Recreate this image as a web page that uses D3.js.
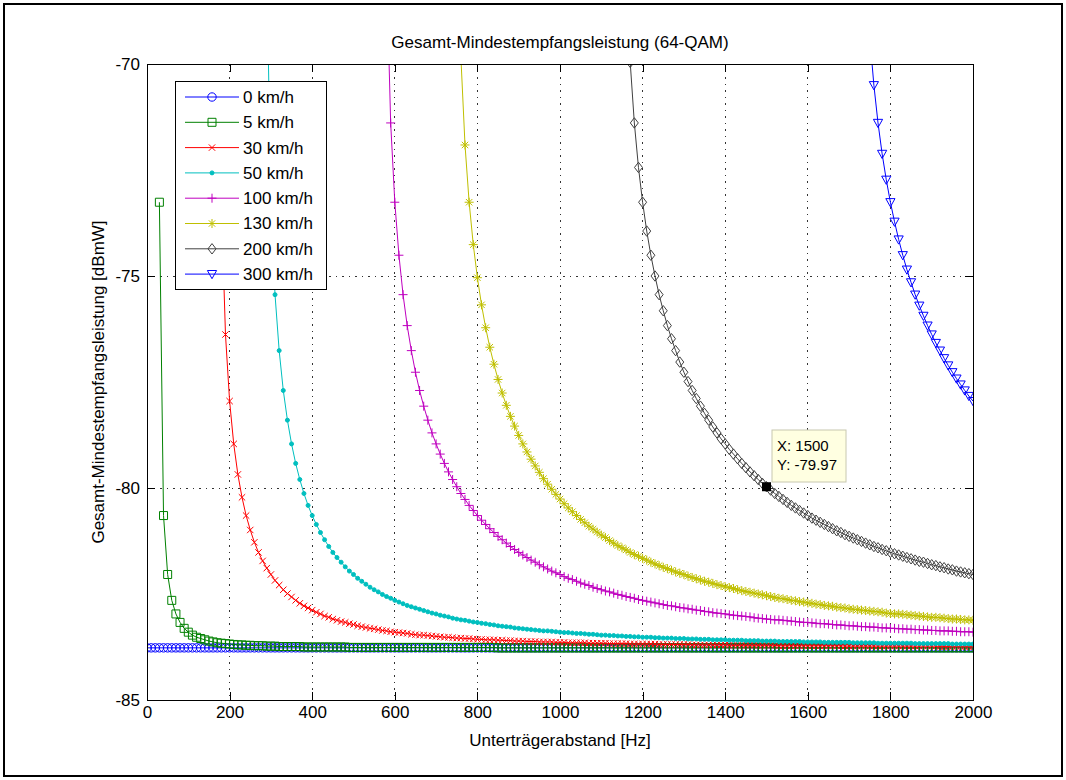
<!DOCTYPE html>
<html>
<head>
<meta charset="utf-8">
<script src="https://cdn.jsdelivr.net/npm/d3@7"></script>
<style>
body{margin:0;background:#fff;}
text{font-family:"Liberation Sans",Arial,Helvetica,sans-serif;}
</style>
</head>
<body>
<div class="plot"></div>
<script>
// curves, one value every 10 Hz from speedStart
const speedLabels = ["0 km/h","5 km/h","30 km/h","50 km/h","100 km/h","130 km/h","200 km/h","300 km/h"];
const speedColors = ["#0000ff","#008000","#ff0000","#00bfbf","#bf00bf","#bfbf00","#404040","#0000ff"];
const speedMarkers = ["o","s","x",".","+","*","d","v"];
const speedStart = [0,30,180,290,580,760,1170,1750];
const sampleStep = 10;

const p0kmh = [
-83.77,-83.77,-83.77,-83.77,-83.77,-83.77,-83.77,-83.77,-83.77,-83.77,
-83.77,-83.77,-83.77,-83.77,-83.77,-83.77,-83.77,-83.77,-83.77,-83.77,
-83.77,-83.77,-83.77,-83.77,-83.77,-83.77,-83.77,-83.77,-83.77,-83.77,
-83.77,-83.77,-83.77,-83.77,-83.77,-83.77,-83.77,-83.77,-83.77,-83.77,
-83.77,-83.77,-83.77,-83.77,-83.77,-83.77,-83.77,-83.77,-83.77,-83.77,
-83.77,-83.77,-83.77,-83.77,-83.77,-83.77,-83.77,-83.77,-83.77,-83.77,
-83.77,-83.77,-83.77,-83.77,-83.77,-83.77,-83.77,-83.77,-83.77,-83.77,
-83.77,-83.77,-83.77,-83.77,-83.77,-83.77,-83.77,-83.77,-83.77,-83.77,
-83.77,-83.77,-83.77,-83.77,-83.77,-83.77,-83.77,-83.77,-83.77,-83.77,
-83.77,-83.77,-83.77,-83.77,-83.77,-83.77,-83.77,-83.77,-83.77,-83.77,
-83.77,-83.77,-83.77,-83.77,-83.77,-83.77,-83.77,-83.77,-83.77,-83.77,
-83.77,-83.77,-83.77,-83.77,-83.77,-83.77,-83.77,-83.77,-83.77,-83.77,
-83.77,-83.77,-83.77,-83.77,-83.77,-83.77,-83.77,-83.77,-83.77,-83.77,
-83.77,-83.77,-83.77,-83.77,-83.77,-83.77,-83.77,-83.77,-83.77,-83.77,
-83.77,-83.77,-83.77,-83.77,-83.77,-83.77,-83.77,-83.77,-83.77,-83.77,
-83.77,-83.77,-83.77,-83.77,-83.77,-83.77,-83.77,-83.77,-83.77,-83.77,
-83.77,-83.77,-83.77,-83.77,-83.77,-83.77,-83.77,-83.77,-83.77,-83.77,
-83.77,-83.77,-83.77,-83.77,-83.77,-83.77,-83.77,-83.77,-83.77,-83.77,
-83.77,-83.77,-83.77,-83.77,-83.77,-83.77,-83.77,-83.77,-83.77,-83.77,
-83.77,-83.77,-83.77,-83.77,-83.77,-83.77,-83.77,-83.77,-83.77,-83.77,
-83.77];

const p5kmh = [
-73.26,-80.65,-82.04,-82.65,-82.97,-83.17,-83.31,-83.40,-83.47,-83.52,
-83.55,-83.58,-83.61,-83.63,-83.65,-83.66,-83.67,-83.68,-83.69,-83.70,
-83.70,-83.71,-83.71,-83.72,-83.72,-83.72,-83.73,-83.73,-83.73,-83.74,
-83.74,-83.74,-83.74,-83.74,-83.74,-83.75,-83.75,-83.75,-83.75,-83.75,
-83.75,-83.75,-83.75,-83.75,-83.75,-83.75,-83.76,-83.76,-83.76,-83.76,
-83.76,-83.76,-83.76,-83.76,-83.76,-83.76,-83.76,-83.76,-83.76,-83.76,
-83.76,-83.76,-83.76,-83.76,-83.76,-83.76,-83.76,-83.76,-83.76,-83.76,
-83.76,-83.76,-83.76,-83.76,-83.76,-83.76,-83.76,-83.76,-83.76,-83.76,
-83.76,-83.76,-83.77,-83.77,-83.77,-83.77,-83.77,-83.77,-83.77,-83.77,
-83.77,-83.77,-83.77,-83.77,-83.77,-83.77,-83.77,-83.77,-83.77,-83.77,
-83.77,-83.77,-83.77,-83.77,-83.77,-83.77,-83.77,-83.77,-83.77,-83.77,
-83.77,-83.77,-83.77,-83.77,-83.77,-83.77,-83.77,-83.77,-83.77,-83.77,
-83.77,-83.77,-83.77,-83.77,-83.77,-83.77,-83.77,-83.77,-83.77,-83.77,
-83.77,-83.77,-83.77,-83.77,-83.77,-83.77,-83.77,-83.77,-83.77,-83.77,
-83.77,-83.77,-83.77,-83.77,-83.77,-83.77,-83.77,-83.77,-83.77,-83.77,
-83.77,-83.77,-83.77,-83.77,-83.77,-83.77,-83.77,-83.77,-83.77,-83.77,
-83.77,-83.77,-83.77,-83.77,-83.77,-83.77,-83.77,-83.77,-83.77,-83.77,
-83.77,-83.77,-83.77,-83.77,-83.77,-83.77,-83.77,-83.77,-83.77,-83.77,
-83.77,-83.77,-83.77,-83.77,-83.77,-83.77,-83.77,-83.77,-83.77,-83.77,
-83.77,-83.77,-83.77,-83.77,-83.77,-83.77,-83.77,-83.77];

const p30kmh = [
-73.26,-76.38,-77.95,-78.96,-79.68,-80.22,-80.65,-80.99,-81.28,-81.52,
-81.72,-81.89,-82.04,-82.18,-82.29,-82.40,-82.49,-82.57,-82.65,-82.72,
-82.78,-82.83,-82.88,-82.93,-82.97,-83.02,-83.05,-83.09,-83.12,-83.15,
-83.17,-83.20,-83.22,-83.25,-83.27,-83.29,-83.31,-83.32,-83.34,-83.36,
-83.37,-83.39,-83.40,-83.41,-83.42,-83.43,-83.45,-83.46,-83.47,-83.47,
-83.48,-83.49,-83.50,-83.51,-83.52,-83.52,-83.53,-83.54,-83.54,-83.55,
-83.55,-83.56,-83.57,-83.57,-83.58,-83.58,-83.58,-83.59,-83.59,-83.60,
-83.60,-83.61,-83.61,-83.61,-83.62,-83.62,-83.62,-83.63,-83.63,-83.63,
-83.63,-83.64,-83.64,-83.64,-83.65,-83.65,-83.65,-83.65,-83.65,-83.66,
-83.66,-83.66,-83.66,-83.66,-83.67,-83.67,-83.67,-83.67,-83.67,-83.68,
-83.68,-83.68,-83.68,-83.68,-83.68,-83.68,-83.69,-83.69,-83.69,-83.69,
-83.69,-83.69,-83.69,-83.69,-83.70,-83.70,-83.70,-83.70,-83.70,-83.70,
-83.70,-83.70,-83.70,-83.71,-83.71,-83.71,-83.71,-83.71,-83.71,-83.71,
-83.71,-83.71,-83.71,-83.71,-83.71,-83.72,-83.72,-83.72,-83.72,-83.72,
-83.72,-83.72,-83.72,-83.72,-83.72,-83.72,-83.72,-83.72,-83.72,-83.72,
-83.72,-83.73,-83.73,-83.73,-83.73,-83.73,-83.73,-83.73,-83.73,-83.73,
-83.73,-83.73,-83.73,-83.73,-83.73,-83.73,-83.73,-83.73,-83.73,-83.73,
-83.73,-83.73,-83.73,-83.73,-83.74,-83.74,-83.74,-83.74,-83.74,-83.74,
-83.74,-83.74,-83.74];

const p50kmh = [
-67.75,-73.26,-75.44,-76.76,-77.70,-78.40,-78.96,-79.42,-79.80,-80.13,
-80.41,-80.65,-80.86,-81.05,-81.22,-81.38,-81.52,-81.64,-81.75,-81.86,
-81.96,-82.04,-82.13,-82.20,-82.27,-82.34,-82.40,-82.45,-82.51,-82.56,
-82.60,-82.65,-82.69,-82.73,-82.77,-82.80,-82.83,-82.86,-82.89,-82.92,
-82.95,-82.97,-83.00,-83.02,-83.04,-83.07,-83.09,-83.11,-83.12,-83.14,
-83.16,-83.17,-83.19,-83.20,-83.22,-83.23,-83.25,-83.26,-83.27,-83.28,
-83.30,-83.31,-83.32,-83.33,-83.34,-83.35,-83.36,-83.37,-83.37,-83.38,
-83.39,-83.40,-83.41,-83.41,-83.42,-83.43,-83.43,-83.44,-83.45,-83.45,
-83.46,-83.47,-83.47,-83.48,-83.48,-83.49,-83.49,-83.50,-83.50,-83.51,
-83.51,-83.52,-83.52,-83.52,-83.53,-83.53,-83.54,-83.54,-83.54,-83.55,
-83.55,-83.55,-83.56,-83.56,-83.56,-83.57,-83.57,-83.57,-83.58,-83.58,
-83.58,-83.58,-83.59,-83.59,-83.59,-83.59,-83.60,-83.60,-83.60,-83.60,
-83.61,-83.61,-83.61,-83.61,-83.62,-83.62,-83.62,-83.62,-83.62,-83.62,
-83.63,-83.63,-83.63,-83.63,-83.63,-83.64,-83.64,-83.64,-83.64,-83.64,
-83.64,-83.64,-83.65,-83.65,-83.65,-83.65,-83.65,-83.65,-83.66,-83.66,
-83.66,-83.66,-83.66,-83.66,-83.66,-83.66,-83.66,-83.67,-83.67,-83.67,
-83.67,-83.67,-83.67,-83.67,-83.67,-83.67,-83.68,-83.68,-83.68,-83.68,
-83.68,-83.68];

const p100kmh = [
-67.75,-71.39,-73.26,-74.51,-75.44,-76.17,-76.76,-77.27,-77.70,-78.07,
-78.40,-78.70,-78.96,-79.20,-79.42,-79.62,-79.80,-79.97,-80.13,-80.27,
-80.41,-80.53,-80.65,-80.76,-80.86,-80.96,-81.05,-81.14,-81.22,-81.30,
-81.38,-81.45,-81.52,-81.58,-81.64,-81.70,-81.75,-81.81,-81.86,-81.91,
-81.96,-82.00,-82.04,-82.09,-82.13,-82.16,-82.20,-82.24,-82.27,-82.30,
-82.34,-82.37,-82.40,-82.43,-82.45,-82.48,-82.51,-82.53,-82.56,-82.58,
-82.60,-82.63,-82.65,-82.67,-82.69,-82.71,-82.73,-82.75,-82.77,-82.78,
-82.80,-82.82,-82.83,-82.85,-82.86,-82.88,-82.89,-82.91,-82.92,-82.94,
-82.95,-82.96,-82.97,-82.99,-83.00,-83.01,-83.02,-83.03,-83.04,-83.06,
-83.07,-83.08,-83.09,-83.10,-83.11,-83.11,-83.12,-83.13,-83.14,-83.15,
-83.16,-83.17,-83.17,-83.18,-83.19,-83.20,-83.20,-83.21,-83.22,-83.23,
-83.23,-83.24,-83.25,-83.25,-83.26,-83.27,-83.27,-83.28,-83.28,-83.29,
-83.30,-83.30,-83.31,-83.31,-83.32,-83.32,-83.33,-83.33,-83.34,-83.34,
-83.35,-83.35,-83.36,-83.36,-83.37,-83.37,-83.37,-83.38,-83.38,-83.39,
-83.39,-83.39,-83.40];

const p130kmh = [
-69.83,-71.91,-73.26,-74.26,-75.04,-75.68,-76.22,-76.68,-77.08,-77.44,
-77.76,-78.05,-78.31,-78.54,-78.76,-78.96,-79.15,-79.32,-79.48,-79.63,
-79.78,-79.91,-80.03,-80.15,-80.26,-80.37,-80.47,-80.56,-80.65,-80.74,
-80.82,-80.90,-80.97,-81.04,-81.11,-81.17,-81.24,-81.30,-81.36,-81.41,
-81.46,-81.52,-81.57,-81.61,-81.66,-81.70,-81.75,-81.79,-81.83,-81.87,
-81.90,-81.94,-81.98,-82.01,-82.04,-82.08,-82.11,-82.14,-82.17,-82.20,
-82.22,-82.25,-82.28,-82.30,-82.33,-82.35,-82.37,-82.40,-82.42,-82.44,
-82.46,-82.48,-82.50,-82.52,-82.54,-82.56,-82.58,-82.60,-82.61,-82.63,
-82.65,-82.66,-82.68,-82.69,-82.71,-82.72,-82.74,-82.75,-82.77,-82.78,
-82.79,-82.81,-82.82,-82.83,-82.85,-82.86,-82.87,-82.88,-82.89,-82.90,
-82.91,-82.92,-82.93,-82.95,-82.96,-82.97,-82.97,-82.98,-82.99,-83.00,
-83.01,-83.02,-83.03,-83.04,-83.05,-83.05,-83.06,-83.07,-83.08,-83.09,
-83.09,-83.10,-83.11,-83.11,-83.12];

const p200kmh = [
-69.96,-71.39,-72.44,-73.26,-73.94,-74.51,-75.00,-75.44,-75.82,-76.17,
-76.48,-76.76,-77.03,-77.27,-77.49,-77.70,-77.89,-78.07,-78.24,-78.40,
-78.56,-78.70,-78.84,-78.96,-79.09,-79.20,-79.31,-79.42,-79.52,-79.62,
-79.71,-79.80,-79.89,-79.97,-80.05,-80.13,-80.20,-80.27,-80.34,-80.41,
-80.47,-80.53,-80.59,-80.65,-80.71,-80.76,-80.81,-80.86,-80.91,-80.96,
-81.01,-81.05,-81.10,-81.14,-81.18,-81.22,-81.26,-81.30,-81.34,-81.38,
-81.41,-81.45,-81.48,-81.52,-81.55,-81.58,-81.61,-81.64,-81.67,-81.70,
-81.73,-81.75,-81.78,-81.81,-81.83,-81.86,-81.88,-81.91,-81.93,-81.96,
-81.98,-82.00,-82.02,-82.04];

const p300kmh = [
-69.35,-70.50,-71.39,-72.12,-72.73,-73.26,-73.72,-74.14,-74.51,-74.85,
-75.15,-75.44,-75.70,-75.94,-76.17,-76.38,-76.58,-76.76,-76.94,-77.11,
-77.27,-77.42,-77.56,-77.70,-77.83,-77.95];

const xTicks = [0,200,400,600,800,1000,1200,1400,1600,1800,2000];
const yTicks = [-85,-80,-75,-70];
const tipX = 1500, tipY = -79.97;

const seriesValues = [p0kmh,p5kmh,p30kmh,p50kmh,p100kmh,p130kmh,p200kmh,p300kmh];

// marker shapes (MATLAB style)
function markerPath(type){
  switch(type){
    case "o": return "M4.2,0A4.2,4.2 0 1,1 -4.2,0A4.2,4.2 0 1,1 4.2,0Z";
    case "s": return "M-4,-4H4V4H-4Z";
    case "x": return "M-3.2,-3.2L3.2,3.2M-3.2,3.2L3.2,-3.2";
    case ".": return "M2,0A2,2 0 1,1 -2,0A2,2 0 1,1 2,0Z";
    case "+": return "M-4.5,0H4.5M0,-4.5V4.5";
    case "*": return "M-4.5,0H4.5M0,-4.5V4.5M-3.2,-3.2L3.2,3.2M-3.2,3.2L3.2,-3.2";
    case "d": return "M0,-5.2L4,0L0,5.2L-4,0Z";
    case "v": return "M-4.6,-3.6L4.6,-3.6L0,4.6Z";
  }
}

let width = 1066, height = 780
let plot = {left: 147, right: 973, top: 64, bottom: 700}

let svg = d3.select(".plot")
            .append("svg")
            .attr("width", width)
            .attr("height", height)

svg.append("rect")
   .attr("width", width).attr("height", height)
   .attr("fill", "#fff")

// outer frame
svg.append("rect")
   .attr("x", 4).attr("y", 4)
   .attr("width", width - 8).attr("height", height - 8)
   .attr("fill", "none")
   .attr("stroke", "#000")
   .attr("stroke-width", 2)

let xScale = d3.scaleLinear().domain([0, 2000]).range([plot.left, plot.right])
let yScale = d3.scaleLinear().domain([-85, -70]).range([plot.bottom, plot.top])

// grid
let grid = svg.append("g").attr("class", "grid")
grid.selectAll(".gx")
    .data(xTicks)
    .enter()
    .append("line")
    .attr("x1", d => xScale(d)).attr("x2", d => xScale(d))
    .attr("y1", plot.top).attr("y2", plot.bottom)
grid.selectAll(".gy")
    .data(yTicks)
    .enter()
    .append("line")
    .attr("x1", plot.left).attr("x2", plot.right)
    .attr("y1", d => yScale(d)).attr("y2", d => yScale(d))
grid.selectAll("line")
    .attr("stroke", "#333")
    .attr("stroke-width", 1)
    .attr("stroke-dasharray", "1.5,5")
    .attr("shape-rendering", "crispEdges")

svg.append("clipPath")
   .attr("id", "clip")
   .append("rect")
   .attr("x", plot.left).attr("y", plot.top)
   .attr("width", plot.right - plot.left)
   .attr("height", plot.bottom - plot.top)

let data = seriesValues.map((vals, k) => vals.map((v, i) => ({f: speedStart[k] + i * sampleStep, v: v})))

let line = d3.line()
             .x(d => xScale(d.f))
             .y(d => yScale(d.v))

let curves = svg.append("g").attr("clip-path", "url(#clip)")
data.forEach(function(pts, k){
  let g = curves.append("g")
  g.append("path")
   .datum(pts)
   .attr("d", line)
   .attr("fill", "none")
   .attr("stroke", speedColors[k])
   .attr("stroke-width", 1)
  g.selectAll(".mk")
   .data(pts)
   .enter()
   .append("path")
   .attr("transform", d => "translate(" + xScale(d.f) + "," + yScale(d.v) + ")")
   .attr("d", markerPath(speedMarkers[k]))
   .attr("fill", speedMarkers[k] == "." ? speedColors[k] : "none")
   .attr("stroke", speedColors[k])
   .attr("stroke-width", 1)
})

// axes, ticks inward on all four sides
let fontFam = "'Liberation Sans', Arial, Helvetica, sans-serif"
let fmt = d => String(d)
let axB = svg.append("g")
   .attr("transform", "translate(0," + plot.bottom + ")")
   .call(d3.axisBottom(xScale).tickValues(xTicks).tickSize(-8).tickSizeOuter(0).tickPadding(6).tickFormat(fmt))
let axT = svg.append("g")
   .attr("transform", "translate(0," + plot.top + ")")
   .call(d3.axisTop(xScale).tickValues(xTicks).tickSize(-8).tickSizeOuter(0).tickFormat(""))
let axL = svg.append("g")
   .attr("transform", "translate(" + plot.left + ",0)")
   .call(d3.axisLeft(yScale).tickValues(yTicks).tickSize(-8).tickSizeOuter(0).tickPadding(7).tickFormat(fmt))
let axR = svg.append("g")
   .attr("transform", "translate(" + plot.right + ",0)")
   .call(d3.axisRight(yScale).tickValues(yTicks).tickSize(-8).tickSizeOuter(0).tickFormat(""))
;[axB, axT, axL, axR].forEach(function(a){
  a.attr("font-size", 17).attr("font-family", fontFam)
  a.select(".domain").remove()
  a.selectAll("line").attr("stroke", "#000").attr("shape-rendering", "crispEdges")
  a.selectAll("text").attr("fill", "#000")
})

svg.append("rect")
   .attr("x", plot.left).attr("y", plot.top)
   .attr("width", plot.right - plot.left)
   .attr("height", plot.bottom - plot.top)
   .attr("fill", "none")
   .attr("stroke", "#000")
   .attr("stroke-width", 1)
   .attr("shape-rendering", "crispEdges")

// titles
svg.append("text")
   .attr("x", (plot.left + plot.right) / 2)
   .attr("y", 48)
   .attr("text-anchor", "middle")
   .attr("font-size", 17)
   .text("Gesamt-Mindestempfangsleistung (64-QAM)")
svg.append("text")
   .attr("x", (plot.left + plot.right) / 2)
   .attr("y", 746)
   .attr("text-anchor", "middle")
   .attr("font-size", 17)
   .text("Unterträgerabstand [Hz]")
svg.append("text")
   .attr("transform", "translate(98," + (plot.top + plot.bottom) / 2 + ") rotate(-90)")
   .attr("text-anchor", "middle")
   .attr("dy", "0.35em")
   .attr("font-size", 17)
   .text("Gesamt-Mindestempfangsleistung [dBmW]")

// legend
let legend = svg.append("g")
legend.append("rect")
      .attr("x", 175).attr("y", 81)
      .attr("width", 151).attr("height", 208)
      .attr("fill", "#fff")
      .attr("stroke", "#000")
      .attr("shape-rendering", "crispEdges")
let item = legend.selectAll(".legend")
                 .data(speedLabels)
                 .enter()
                 .append("g")
                 .attr("class", "legend")
                 .attr("transform", (d, i) => "translate(0," + (97 + i * 25.3) + ")")
item.append("line")
    .attr("x1", 185).attr("x2", 239)
    .attr("stroke", (d, i) => speedColors[i])
item.append("path")
    .attr("transform", "translate(212,0)")
    .attr("d", (d, i) => markerPath(speedMarkers[i]))
    .attr("fill", (d, i) => speedMarkers[i] == "." ? speedColors[i] : "none")
    .attr("stroke", (d, i) => speedColors[i])
item.append("text")
    .attr("x", 243)
    .attr("dy", "0.35em")
    .attr("font-size", 17)
    .text(d => d)

// data tip
let tip = svg.append("g")
tip.append("rect")
   .attr("x", xScale(tipX) - 4.5).attr("y", yScale(tipY) - 4.5)
   .attr("width", 9).attr("height", 9)
   .attr("fill", "#000")
tip.append("rect")
   .attr("x", 772).attr("y", 430)
   .attr("width", 74).attr("height", 52)
   .attr("fill", "#ffffe1")
   .attr("stroke", "#c8c8b0")
tip.append("text")
   .attr("x", 777).attr("y", 451)
   .attr("font-size", 15)
   .text("X: " + tipX)
tip.append("text")
   .attr("x", 777).attr("y", 470)
   .attr("font-size", 15)
   .text("Y: " + tipY)
</script>
</body>
</html>
